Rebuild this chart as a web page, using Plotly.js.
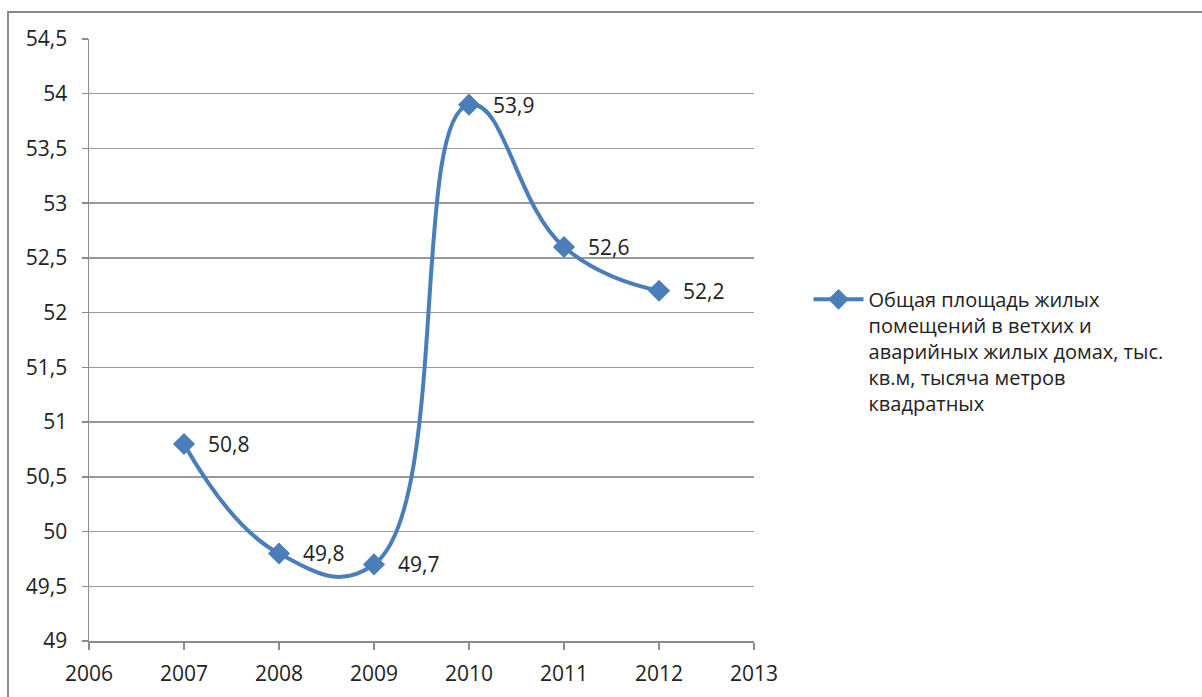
<!DOCTYPE html>
<html>
<head>
<meta charset="utf-8">
<script src="https://cdn.plot.ly/plotly-3.0.1.min.js"></script>
<style>
html,body{margin:0;padding:0;background:#fff;}
#frame{position:absolute;left:7px;top:11px;width:1300px;height:800px;border-top:2px solid #8a8a8a;border-left:2px solid #8a8a8a;pointer-events:none;z-index:5;}
#chart{position:absolute;left:0;top:0;width:1202px;height:697px;}
</style>
</head>
<body>
<div id="chart"></div>
<div id="frame"></div>
<script>
const years = [2007, 2008, 2009, 2010, 2011, 2012];
const values = [50.8, 49.8, 49.7, 53.9, 52.6, 52.2];
const labels = ["50,8", "49,8", "49,7", "53,9", "52,6", "52,2"];
const seriesName = "Общая площадь жилых<br>помещений в ветхих и<br>аварийных жилых домах, тыс.<br>кв.м, тысяча метров<br>квадратных";
const yTicks = [49, 49.5, 50, 50.5, 51, 51.5, 52, 52.5, 53, 53.5, 54, 54.5];
const xTicks = [2006, 2007, 2008, 2009, 2010, 2011, 2012, 2013];

const FONT = "Open Sans, Noto Sans, sans-serif";
const color = "#4a7ebb";

const trace = {
  x: years, y: values, type: "scatter", mode: "lines+markers",
  name: seriesName,
  line: {color: color, width: 4, shape: "spline", smoothing: 1.3},
  marker: {symbol: "diamond", size: 17, color: color},
  cliponaxis: false
};

const annotations = years.map((yr, i) => ({
  x: yr, y: values[i], xref: "x", yref: "y", text: labels[i],
  showarrow: false, xanchor: "left", yanchor: "middle", xshift: 22, yshift: 0,
  font: {family: FONT, size: 21, color: "#222"}
}));

const layout = {
  width: 1202, height: 697,
  margin: {l: 89, r: 448, t: 39, b: 56},
  paper_bgcolor: "#fff", plot_bgcolor: "#fff",
  separators: ", ",
  showlegend: true,
  legend: {x: 1.082, y: 0.6, xanchor: "left", yanchor: "top", valign: "top",
    font: {family: FONT, size: 20, color: "#222"}, itemwidth: 50, tracegroupgap: 0},
  xaxis: {range: [2006, 2013], tickvals: xTicks, ticktext: xTicks.map(String),
    showgrid: false, zeroline: false, showline: true, linecolor: "#8c8c8c", linewidth: 1.5,
    ticks: "outside", ticklen: 7, tickcolor: "#8c8c8c", tickwidth: 1.5,
    ticklabelstandoff: 6,
    tickfont: {family: FONT, size: 21, color: "#222"}, fixedrange: true},
  yaxis: {range: [49, 54.5], tickvals: yTicks,
    ticktext: yTicks.map(v => String(v).replace(".", ",")),
    showgrid: true, gridcolor: "#9a9a9a", gridwidth: 1.5, zeroline: false,
    showline: true, linecolor: "#8c8c8c", linewidth: 1.5,
    ticks: "outside", ticklen: 6, tickcolor: "#8c8c8c", tickwidth: 1.5,
    ticklabelstandoff: 10,
    tickfont: {family: FONT, size: 21, color: "#222"}, fixedrange: true},
  annotations: annotations
};

Plotly.newPlot("chart", [trace], layout, {displayModeBar: false, staticPlot: true});
</script>
</body>
</html>
